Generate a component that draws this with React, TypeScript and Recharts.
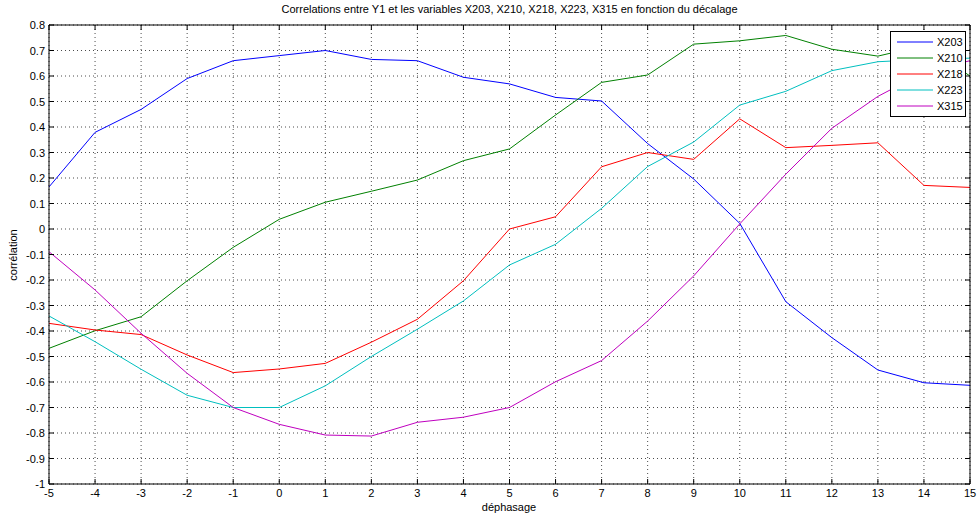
import { LineChart, Line, XAxis, YAxis, CartesianGrid, Legend } from "recharts"

// décalages (axe X)
const decalages = [-5, -4, -3, -2, -1, 0, 1, 2, 3, 4, 5, 6, 7, 8, 9, 10, 11, 12, 13, 14, 15]
const ticksY = [-1, -0.9, -0.8, -0.7, -0.6, -0.5, -0.4, -0.3, -0.2, -0.1, 0, 0.1, 0.2, 0.3, 0.4, 0.5, 0.6, 0.7, 0.8]

const x203 = [0.165, 0.379, 0.469, 0.59, 0.66, 0.68, 0.7, 0.665, 0.66, 0.595, 0.569, 0.516, 0.502, 0.335, 0.196, 0.022, -0.285, -0.426, -0.553, -0.603, -0.613]
const x210 = [-0.468, -0.399, -0.344, -0.203, -0.072, 0.038, 0.105, 0.148, 0.192, 0.268, 0.314, 0.447, 0.575, 0.604, 0.725, 0.738, 0.759, 0.705, 0.678, 0.72, 0.6]
const x218 = [-0.37, -0.396, -0.414, -0.494, -0.563, -0.549, -0.527, -0.444, -0.354, -0.203, 0.0, 0.048, 0.244, 0.3, 0.273, 0.432, 0.319, 0.328, 0.338, 0.171, 0.163]
const x223 = [-0.341, -0.442, -0.55, -0.652, -0.7, -0.7, -0.615, -0.5, -0.393, -0.282, -0.141, -0.06, 0.081, 0.245, 0.341, 0.486, 0.54, 0.621, 0.656, 0.665, 0.67]
const x315 = [-0.089, -0.239, -0.409, -0.566, -0.7, -0.766, -0.808, -0.812, -0.758, -0.738, -0.7, -0.599, -0.516, -0.361, -0.184, 0.02, 0.215, 0.395, 0.52, 0.615, 0.66]

const series = [
  { cle: "X203", cor: "#0000ff" },
  { cle: "X210", cor: "#008000" },
  { cle: "X218", cor: "#ff0000" },
  { cle: "X223", cor: "#00bfbf" },
  { cle: "X315", cor: "#bf00bf" },
]

const dados = decalages.map((d, i) => ({
  d,
  X203: x203[i],
  X210: x210[i],
  X218: x218[i],
  X223: x223[i],
  X315: x315[i],
}))

const police = "'Liberation Sans', Arial, sans-serif"

const ok = (v: any) => typeof v === "number" && Number.isFinite(v)

function TickBas({ x, y, payload }: any) {
  if (!ok(x) || !ok(y)) return null
  return (
    <g>
      <line x1={x} y1={y} x2={x} y2={y - 5} stroke="#000" />
      <text x={x} y={y + 13} textAnchor="middle" fontSize={11} fontFamily={police} fill="#000">
        {payload.value}
      </text>
    </g>
  )
}

function TickGauche({ x, y, payload }: any) {
  if (!ok(x) || !ok(y)) return null
  return (
    <g>
      <line x1={x} y1={y} x2={x + 5} y2={y} stroke="#000" />
      <text x={x - 4} y={y + 4} textAnchor="end" fontSize={11} fontFamily={police} fill="#000">
        {payload.value}
      </text>
    </g>
  )
}

function TickHaut({ x, y }: any) {
  if (!ok(x) || !ok(y)) return null
  return <line x1={x} y1={y} x2={x} y2={y + 5} stroke="#000" />
}

function TickDroite({ x, y }: any) {
  if (!ok(x) || !ok(y)) return null
  return <line x1={x} y1={y} x2={x - 5} y2={y} stroke="#000" />
}

function Legende() {
  return (
    <div style={{ border: "1px solid #000", background: "#fff", padding: "2px 0", width: 74, fontFamily: police, fontSize: 11 }}>
      {series.map((s) => (
        <div key={s.cle} style={{ display: "flex", alignItems: "center", height: 16 }}>
          <svg width={42} height={4} style={{ display: "block" }}>
            <line x1={6} y1={2} x2={42} y2={2} stroke={s.cor} strokeWidth={1} />
          </svg>
          <span style={{ marginLeft: 4, color: "#000" }}>{s.cle}</span>
        </div>
      ))}
    </div>
  )
}

export default function App() {
  return (
    <div style={{ position: "absolute", left: 0, top: 0, width: 978, height: 520, background: "#fff", fontFamily: police }}>
      <div style={{ position: "absolute", left: 49, width: 921, top: 3, textAlign: "center", fontSize: 11, color: "#000" }}>
        Correlations entre Y1 et les variables X203, X210, X218, X223, X315 en fonction du décalage
      </div>
      <div style={{ position: "absolute", left: 509, top: 501, transform: "translateX(-50%)", fontSize: 11, color: "#000", whiteSpace: "nowrap" }}>
        déphasage
      </div>
      <div style={{ position: "absolute", left: 13, top: 255, transform: "translate(-50%, -50%) rotate(-90deg)", fontSize: 11, color: "#000", whiteSpace: "nowrap" }}>
        corrélation
      </div>
      <LineChart width={978} height={520} data={dados} margin={{ top: 24, right: 7, bottom: 16, left: 5 }}>
        <CartesianGrid stroke="#000" strokeDasharray="1 3" strokeOpacity={0.7} />
        <XAxis
          dataKey="d"
          type="number"
          domain={[-5, 15]}
          ticks={decalages}
          interval={0}
          height={20}
          tickSize={0}
          tickMargin={0}
          tickLine={false}
          axisLine={{ stroke: "#000" }}
          tick={<TickBas />}
        />
        <XAxis
          xAxisId="haut"
          dataKey="d"
          orientation="top"
          type="number"
          domain={[-5, 15]}
          ticks={decalages}
          interval={0}
          height={1}
          tickSize={0}
          tickMargin={0}
          tickLine={false}
          axisLine={{ stroke: "#000" }}
          tick={<TickHaut />}
          allowDataOverflow
        />
        <YAxis
          type="number"
          domain={[-1, 0.8]}
          ticks={ticksY}
          interval={0}
          width={44}
          tickSize={0}
          tickMargin={0}
          tickLine={false}
          axisLine={{ stroke: "#000" }}
          tick={<TickGauche />}
          allowDataOverflow
        />
        <YAxis
          yAxisId="droite"
          orientation="right"
          type="number"
          domain={[-1, 0.8]}
          ticks={ticksY}
          interval={0}
          width={1}
          tickSize={0}
          tickMargin={0}
          tickLine={false}
          axisLine={{ stroke: "#000" }}
          tick={<TickDroite />}
          allowDataOverflow
        />
        {series.map((s) => (
          <Line
            key={s.cle}
            dataKey={s.cle}
            stroke={s.cor}
            strokeWidth={1}
            dot={false}
            activeDot={false}
            isAnimationActive={false}
          />
        ))}
        <Legend
          layout="vertical"
          align="center"
          verticalAlign="middle"
          content={<Legende />}
          wrapperStyle={{ position: "absolute", left: 890, top: 31, width: 76 }}
        />
      </LineChart>
    </div>
  )
}
